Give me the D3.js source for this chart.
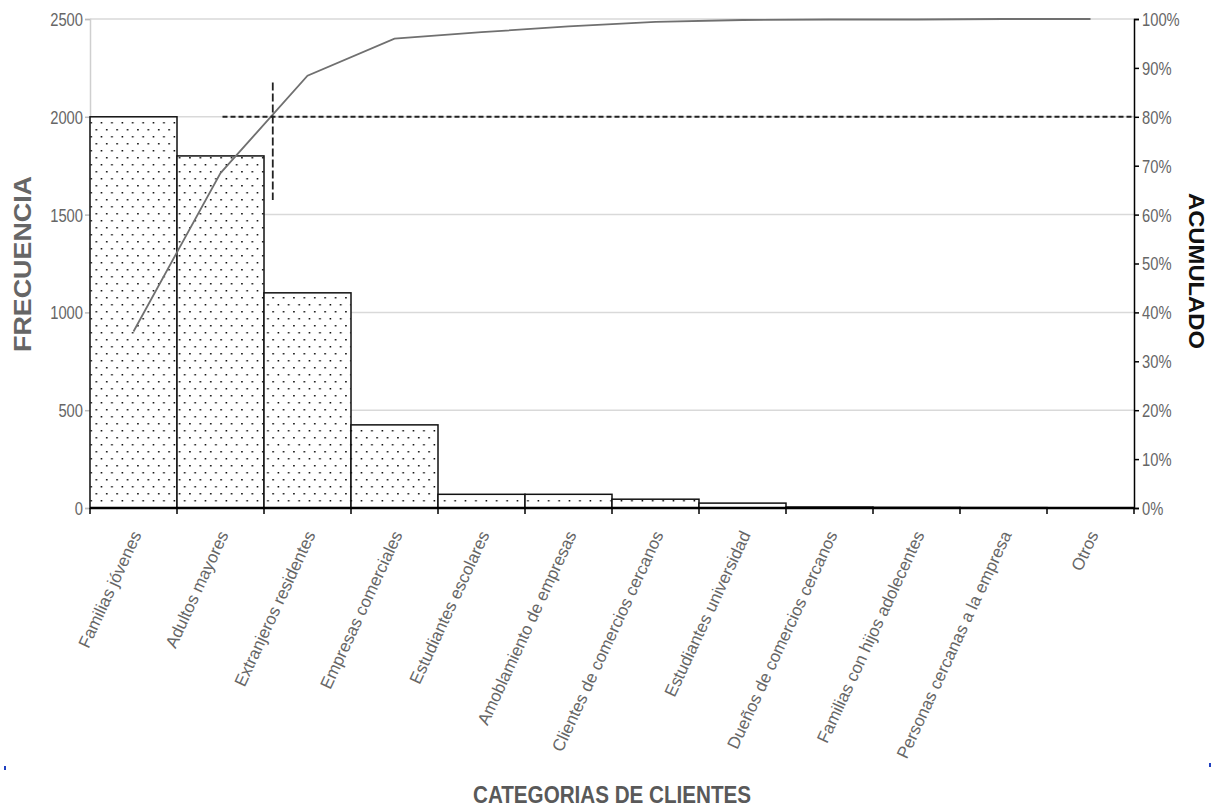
<!DOCTYPE html>
<html>
<head>
<meta charset="utf-8">
<script src="https://cdn.jsdelivr.net/npm/d3@7"></script>
<style>
  body { margin: 0; background: #fff; }
  svg { display: block; }
</style>
</head>
<body>
<script>
const width = 1216;
const height = 808;

// data
const categories = [
    "Familias jóvenes", "Adultos mayores", "Extranjeros residentes", "Empresas comerciales",
    "Estudiantes escolares", "Amoblamiento de empresas", "Clientes de comercios cercanos",
    "Estudiantes universidad", "Dueños de comercios cercanos", "Familias con hijos adolecentes",
    "Personas cercanas a la empresa", "Otros"
];
const frequency = [2000, 1800, 1100, 425, 70, 70, 45, 25, 5, 3, 2, 1];
const cumulative = [36.1, 68.5, 88.4, 96.0, 97.3, 98.5, 99.4, 99.8, 99.9, 99.9, 100, 100];
const freqTicks = [0, 500, 1000, 1500, 2000, 2500];
const pctTicks = [0, 10, 20, 30, 40, 50, 60, 70, 80, 90, 100];
const cutPct = 80;          // pareto 80% reference
const cutSpan = [63, 87];   // extent of the vertical reference mark

const plain = '"Liberation Sans", Arial, sans-serif';
const squeeze = 0.82;       // tick labels look condensed in the original

const svg = d3.select("body").append("svg")
    .attr("width", width)
    .attr("height", height);

const x = d3.scaleBand().domain(categories).range([90, 1134]).padding(0);
const y = d3.scaleLinear().domain([0, 2500]).range([508, 19]);
const y2 = d3.scaleLinear().domain([0, 100]).range([508, 19]);

// dotted fill for the bars
const pat = svg.append("defs").append("pattern")
    .attr("id", "dots")
    .attr("patternUnits", "userSpaceOnUse")
    .attr("width", 10.4)
    .attr("height", 14);
pat.append("rect").attr("width", 10.4).attr("height", 14).attr("fill", "#fff");
pat.append("rect").attr("x", 2).attr("y", 3).attr("width", 1.5).attr("height", 1.5).attr("fill", "#000");
pat.append("rect").attr("x", 7.2).attr("y", 10).attr("width", 1.5).attr("height", 1.5).attr("fill", "#000");

// gridlines
svg.append("g")
    .selectAll("line")
    .data(freqTicks.filter(d => d > 0))
    .enter().append("line")
    .attr("x1", 90).attr("x2", 1134)
    .attr("y1", d => y(d)).attr("y2", d => y(d))
    .attr("stroke", "#d9d9d9")
    .attr("stroke-width", 1.5);

// left axis
const leftAxis = svg.append("g")
    .attr("transform", "translate(90,0)")
    .call(d3.axisLeft(y).tickValues(freqTicks).tickFormat(d3.format("d")).tickSize(5).tickPadding(5));
leftAxis.select(".domain").attr("stroke", "#cfcfcf").attr("stroke-width", 1.5);
leftAxis.selectAll(".tick line").attr("stroke", "#bdbdbd").attr("stroke-width", 1.5);
leftAxis.selectAll("text")
    .attr("font-family", plain)
    .attr("font-size", 18)
    .attr("fill", "#666")
    .attr("x", -7 / squeeze)
    .attr("dy", "0.36em")
    .attr("transform", `scale(${squeeze},1)`);

// bars
svg.append("g")
    .selectAll("rect")
    .data(frequency)
    .enter().append("rect")
    .attr("x", (d, i) => x(categories[i]))
    .attr("y", d => y(d))
    .attr("width", x.bandwidth())
    .attr("height", d => y(0) - y(d))
    .attr("fill", "url(#dots)")
    .attr("stroke", "#111")
    .attr("stroke-width", 1.5);

// bottom axis
const bottomAxis = svg.append("g")
    .attr("transform", "translate(0,508)")
    .call(d3.axisBottom(x).tickSize(0).tickPadding(0));
bottomAxis.select(".domain").remove();
bottomAxis.append("line")
    .attr("x1", 90).attr("x2", 1134)
    .attr("stroke", "#000").attr("stroke-width", 2.5);
bottomAxis.selectAll(".sep")
    .data(categories.concat([null]))
    .enter().append("line")
    .attr("class", "sep")
    .attr("x1", (d, i) => i < categories.length ? x(d) : 1134)
    .attr("x2", (d, i) => i < categories.length ? x(d) : 1134)
    .attr("y1", 0).attr("y2", 6)
    .attr("stroke", "#000").attr("stroke-width", 1.5);
bottomAxis.selectAll(".tick text")
    .attr("font-family", plain)
    .attr("font-size", 17)
    .attr("fill", "#666")
    .attr("text-anchor", "end")
    .attr("dy", "0.35em")
    .attr("transform", "translate(3,24) rotate(-65)");

// right axis
const rightAxis = svg.append("g")
    .attr("transform", "translate(1134,0)")
    .call(d3.axisRight(y2).tickValues(pctTicks).tickFormat(d => d + "%").tickSize(5).tickPadding(3));
rightAxis.select(".domain").attr("stroke", "#000").attr("stroke-width", 1.5);
rightAxis.selectAll(".tick line").attr("stroke", "#000").attr("stroke-width", 1.5);
rightAxis.selectAll("text")
    .attr("font-family", plain)
    .attr("font-size", 18)
    .attr("fill", "#666")
    .attr("x", 8 / squeeze)
    .attr("dy", "0.36em")
    .attr("transform", `scale(${squeeze},1)`);

// cumulative line
const line = d3.line()
    .x((d, i) => x(categories[i]) + x.bandwidth() / 2)
    .y(d => y2(d));

svg.append("path")
    .datum(cumulative)
    .attr("d", line)
    .attr("fill", "none")
    .attr("stroke", "#707070")
    .attr("stroke-width", 1.8);

// 80% reference lines
const c0 = x(categories[1]) + x.bandwidth() / 2;
const c1 = x(categories[2]) + x.bandwidth() / 2;
const cutX = c0 + (cutPct - cumulative[1]) / (cumulative[2] - cumulative[1]) * (c1 - c0);

svg.append("line")
    .attr("x1", c0 + 2).attr("x2", 1134)
    .attr("y1", y2(cutPct)).attr("y2", y2(cutPct))
    .attr("stroke", "#222")
    .attr("stroke-width", 2)
    .attr("stroke-dasharray", "5,3");

svg.append("line")
    .attr("x1", cutX + 2).attr("x2", cutX + 2)
    .attr("y1", y2(cutSpan[1])).attr("y2", y2(cutSpan[0]))
    .attr("stroke", "#222")
    .attr("stroke-width", 1.8)
    .attr("stroke-dasharray", "8,3");

// axis titles
svg.append("text")
    .attr("transform", "translate(31,264) rotate(-90)")
    .attr("text-anchor", "middle")
    .attr("font-family", plain)
    .attr("font-weight", "bold")
    .attr("font-size", 23)
    .attr("fill", "#666")
    .attr("textLength", 176)
    .attr("lengthAdjust", "spacingAndGlyphs")
    .text("FRECUENCIA");

svg.append("text")
    .attr("transform", "translate(1189,271) rotate(90)")
    .attr("text-anchor", "middle")
    .attr("font-family", plain)
    .attr("font-weight", "bold")
    .attr("font-size", 22)
    .attr("fill", "#111")
    .attr("textLength", 156)
    .attr("lengthAdjust", "spacingAndGlyphs")
    .text("ACUMULADO");

svg.append("text")
    .attr("x", 612)
    .attr("y", 803)
    .attr("text-anchor", "middle")
    .attr("font-family", plain)
    .attr("font-weight", "bold")
    .attr("font-size", 24)
    .attr("fill", "#595959")
    .attr("textLength", 278)
    .attr("lengthAdjust", "spacingAndGlyphs")
    .text("CATEGORIAS DE CLIENTES");

// small blue marks at the frame edges
svg.append("rect").attr("x", 4).attr("y", 766).attr("width", 2).attr("height", 4).attr("fill", "#2040c0");
svg.append("rect").attr("x", 1209).attr("y", 763).attr("width", 2).attr("height", 4).attr("fill", "#2040c0");
</script>
</body>
</html>
